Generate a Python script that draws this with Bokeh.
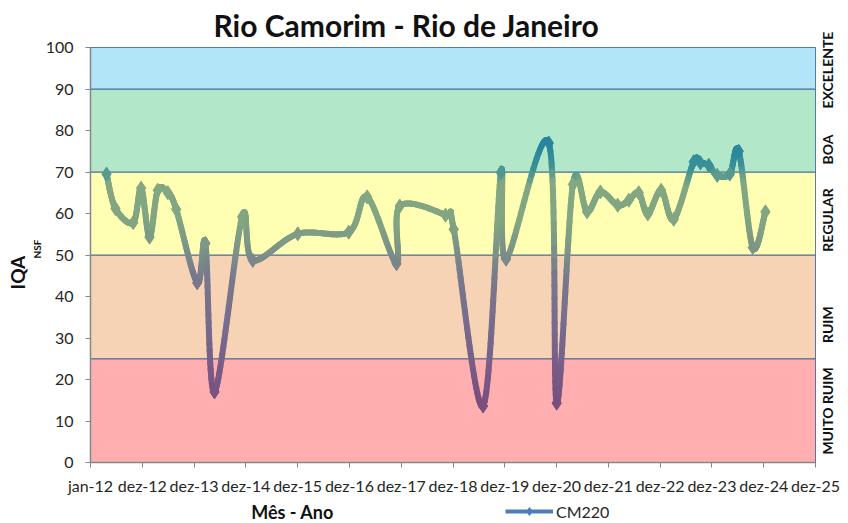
import numpy as np
import pandas as pd
from bokeh.plotting import figure
from bokeh.layouts import column
from bokeh.models import (Range1d, FixedTicker, LinearAxis, Title, Legend,
                          LegendItem, ColumnDataSource, Label)
from bokeh.embed import file_html
from bokeh.resources import INLINE

# ---------------- data ----------------
datas = ["2012-04-23", "2012-06-25", "2012-10-28", "2012-12-23", "2013-02-20",
         "2013-04-19", "2013-06-29", "2013-08-27", "2014-01-22", "2014-03-21",
         "2014-05-24", "2014-12-05", "2015-02-18", "2016-01-01", "2016-12-25",
         "2017-05-04", "2017-11-27", "2017-12-20", "2018-11-07", "2019-01-04",
         "2019-07-30", "2019-12-03", "2020-01-08", "2020-11-04", "2020-12-30",
         "2021-04-23", "2021-08-01", "2021-11-03", "2022-03-05", "2022-05-22",
         "2022-07-31", "2022-10-03", "2023-01-05", "2023-04-04", "2023-08-23",
         "2023-10-09", "2023-12-07", "2024-02-04", "2024-05-03", "2024-07-05",
         "2024-10-12", "2025-01-09"]
iqa = [69.5, 61.2, 57.8, 66.1, 54.3,
       65.6, 65.0, 61.0, 43.3, 52.8,
       17.0, 59.2, 48.7, 55.1, 55.5,
       64.0, 47.9, 61.8, 59.6, 56.2,
       13.6, 69.9, 49.0, 77.0, 14.3,
       67.0, 60.4, 65.2, 62.0, 63.2,
       65.0, 59.9, 65.6, 58.6, 72.5,
       72.2, 71.6, 69.2, 69.5, 75.0,
       51.8, 60.4]
serie = "CM220"
tick_labels = ["jan-12", "dez-12", "dez-13", "dez-14", "dez-15", "dez-16",
               "dez-17", "dez-18", "dez-19", "dez-20", "dez-21", "dez-22",
               "dez-23", "dez-24", "dez-25"]
y_ticks = [0, 10, 20, 30, 40, 50, 60, 70, 80, 90, 100]
faixas_lim = [0, 25, 50, 70, 90, 100]
faixas_cor = ["#ffafaf", "#f6d3b4", "#ffffb3", "#b3e7c9", "#b1e5f7"]
faixas_nome = ["MUITO RUIM", "RUIM", "REGULAR", "BOA", "EXCELENTE"]

# ---------------- layout ----------------
W, H, H2 = 848, 497, 26
BL, BR, BT, BB = 90, 33, 47, 34
FW, FH = W - BL - BR, H - BT - BB
FONT = "Lato"
TXT = "#262626"
DARK = "#111111"

origem = pd.Timestamp("2012-01-01")
x = (pd.to_datetime(datas) - origem).days.to_numpy(dtype=float)
y = np.array(iqa, dtype=float)
step = 365
x_max = step * (len(tick_labels) - 1)

p = figure(width=W, height=H, output_backend="svg", toolbar_location=None,
           x_range=Range1d(0, x_max), y_range=Range1d(0, 100),
           min_border_left=BL, min_border_right=BR, min_border_top=BT,
           min_border_bottom=BB, background_fill_color="white",
           border_fill_color="white")
p.outline_line_color = "#4a6a9c"
p.outline_line_width = 1
p.xgrid.visible = False
p.ygrid.visible = False

# title
p.title.text = "Rio Camorim - Rio de Janeiro"
p.title.align = "left"
p.title.offset = 123
p.title.text_font = FONT
p.title.text_font_style = "bold"
p.title.text_font_size = "30px"
p.title.text_color = DARK
p.title.standoff = 9

# quality bands
p.quad(left=0, right=x_max, bottom=faixas_lim[:-1], top=faixas_lim[1:],
       fill_color=faixas_cor, line_color="#4a6a9c", line_width=1)

# ---------------- smoothed gradient line ----------------
kx, ky = FW / x_max, FH / 100.0
P = np.column_stack([x * kx, y * ky])
n = len(P)
curve = []
t = np.linspace(0, 1, 30)[:, None]
for i in range(n - 1):
    p0 = P[i - 1] if i > 0 else P[i]
    p1, p2_ = P[i], P[i + 1]
    p3 = P[i + 2] if i + 2 < n else P[i + 1]
    c1 = p1 + (p2_ - p0) / 6.0
    c2 = p2_ - (p3 - p1) / 6.0
    seg = ((1 - t) ** 3) * p1 + 3 * ((1 - t) ** 2) * t * c1 + 3 * (1 - t) * t ** 2 * c2 + t ** 3 * p2_
    curve.append(seg if i == 0 else seg[1:])
curve = np.vstack(curve)
cx, cy = curve[:, 0] / kx, curve[:, 1] / ky

stop_v = [0, 15, 30, 45, 52, 58, 67, 71, 76, 100]
stop_c = [(125, 70, 125), (122, 80, 128), (120, 104, 140), (120, 122, 140),
          (125, 150, 135), (130, 165, 130), (132, 168, 130), (62, 146, 150),
          (40, 135, 158), (30, 120, 160)]
stop_c = np.array(stop_c, dtype=float)


def grad(v):
    r = np.interp(v, stop_v, stop_c[:, 0])
    g = np.interp(v, stop_v, stop_c[:, 1])
    b = np.interp(v, stop_v, stop_c[:, 2])
    return "#%02x%02x%02x" % (int(r), int(g), int(b))


xs, ys, cols = [], [], []
for i in range(len(cx) - 1):
    xs.append([cx[i], cx[i + 1]])
    ys.append([cy[i], cy[i + 1]])
    cols.append(grad((cy[i] + cy[i + 1]) / 2))
p.multi_line(xs=xs, ys=ys, line_color=cols, line_width=6, line_cap="round")

mcols = [grad(v) for v in y]
p.scatter(x=x, y=y, marker="diamond", size=14, fill_color=mcols, line_color=mcols)

# ---------------- axes ----------------
xa = p.xaxis[0]
xa.ticker = FixedTicker(ticks=[step * i for i in range(len(tick_labels))])
xa.major_label_overrides = {step * i: lbl for i, lbl in enumerate(tick_labels)}
ya = p.yaxis[0]
ya.ticker = FixedTicker(ticks=y_ticks)
for ax in (xa, ya):
    ax.axis_line_color = "#868686"
    ax.axis_line_width = 1.5
    ax.major_tick_line_color = "#868686"
    ax.major_tick_out = 5
    ax.major_tick_in = 0
    ax.minor_tick_line_color = None
    ax.major_label_text_font = FONT
    ax.major_label_text_font_size = "16px"
    ax.major_label_text_color = TXT
xa.major_label_standoff = 8
ya.major_label_standoff = 12

# quality class names on the right (text starts at the tick and runs upward)
ra_pos = [1.9, 28.8, 50.8, 71.8, 85.3]
ra = LinearAxis(ticker=FixedTicker(ticks=ra_pos))
ra.major_label_overrides = {v: nome for v, nome in zip(ra_pos, faixas_nome)}
ra.major_label_orientation = np.pi / 2
ra.axis_line_color = None
ra.major_tick_line_color = None
ra.major_tick_out = 0
ra.major_tick_in = 0
ra.minor_tick_line_color = None
ra.major_label_standoff = 12
ra.major_label_text_font = FONT
ra.major_label_text_font_style = "bold"
ra.major_label_text_font_size = "14px"
ra.major_label_text_color = DARK
p.add_layout(ra, "right")

# y-axis title IQA with NSF subscript
p.add_layout(Title(text="NSF", align="left", offset=204, standoff=0,
                   text_font=FONT, text_font_style="bold", text_font_size="10px",
                   text_color=DARK), "left")
p.add_layout(Title(text="IQA", align="left", offset=173, standoff=0,
                   text_font=FONT, text_font_style="bold", text_font_size="19px",
                   text_color=DARK), "left")

# ---------------- bottom strip: x-axis title and legend ----------------
p2 = figure(width=W, height=H2, output_backend="svg", toolbar_location=None,
            x_range=Range1d(0, W), y_range=Range1d(0, H2),
            x_axis_location=None, y_axis_location=None, min_border=0,
            background_fill_color="white", border_fill_color="white")
p2.outline_line_color = None
p2.grid.visible = False
p2.add_layout(Label(x=292 - BL, y=12, x_units="screen", y_units="screen",
                    text="Mês - Ano", text_align="center", text_baseline="middle",
                    text_font=FONT, text_font_style="bold", text_font_size="18px",
                    text_color=DARK))
vazio = ColumnDataSource(dict(x=[np.nan], y=[np.nan]))
lr = p2.line("x", "y", source=vazio, line_color="#4a7ebb", line_width=4)
sr = p2.scatter("x", "y", source=vazio, marker="diamond", size=10,
                fill_color="#4a7ebb", line_color="#4a7ebb")
leg = Legend(items=[LegendItem(label=serie, renderers=[lr, sr])],
             location=(505 - BL, 2), glyph_width=48, glyph_height=20,
             label_standoff=3, padding=0, margin=0, spacing=0,
             border_line_color=None, background_fill_alpha=0,
             label_text_font=FONT, label_text_font_size="16px",
             label_text_color=TXT)
p2.add_layout(leg)

layout = column(p, p2, spacing=0)
open("out.html", "w").write(file_html(layout, INLINE))
